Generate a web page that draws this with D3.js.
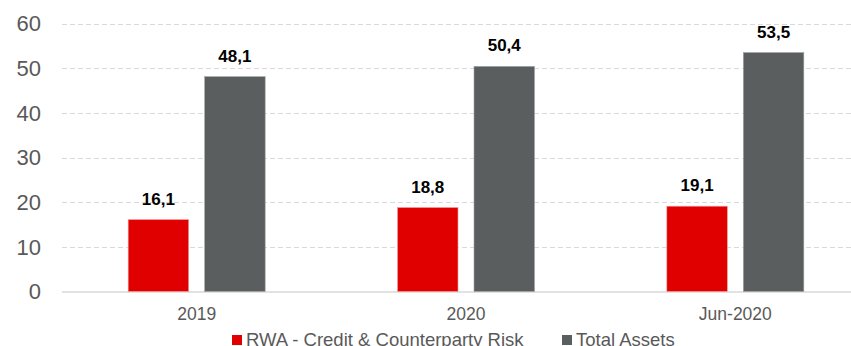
<!DOCTYPE html>
<html>
<head>
<meta charset="utf-8">
<script src="https://cdn.jsdelivr.net/npm/d3@7"></script>
<style>
  html, body { margin: 0; padding: 0; background: #fff; overflow: hidden; }
  svg { display: block; font-family: "Liberation Sans", Arial, sans-serif; }
</style>
</head>
<body>
<svg id="chart" width="851" height="346"></svg>
<script>
const categories = ["2019", "2020", "Jun-2020"];
const seriesNames = ["RWA - Credit & Counterparty Risk", "Total Assets"];
const rwa = [16.1, 18.8, 19.1];
const totalAssets = [48.1, 50.4, 53.5];
const yTicks = [0, 10, 20, 30, 40, 50, 60];
const colors = ["#e00000", "#5b5e5f"];

const svg = d3.select("#chart");
const W = 851, H = 346;
const margin = { left: 62, right: -19, top: 23.5, bottom: 54.5 };

const x = d3.scaleBand().domain(categories)
  .range([margin.left, W - margin.right]).paddingInner(0).paddingOuter(0);
const y = d3.scaleLinear().domain([0, 60]).range([H - margin.bottom, margin.top]);

// dashed gridlines
svg.append("g").selectAll("line").data(yTicks.filter(d => d > 0)).join("line")
  .attr("x1", margin.left).attr("x2", W)
  .attr("y1", d => Math.round(y(d)) + 0.5).attr("y2", d => Math.round(y(d)) + 0.5)
  .attr("stroke", "#d9d9d9").attr("stroke-width", 1.2).attr("stroke-dasharray", "5,3");

// baseline
svg.append("line").attr("x1", margin.left).attr("x2", W)
  .attr("y1", y(0) + 0.5).attr("y2", y(0) + 0.5)
  .attr("stroke", "#d9d9d9").attr("stroke-width", 1.5);

// y axis labels
const yAxis = d3.axisLeft(y).tickValues(yTicks).tickSize(0).tickPadding(0);
const gy = svg.append("g").attr("transform", "translate(41,0)").call(yAxis);
gy.select(".domain").remove();
gy.selectAll("text").attr("fill", "#595959").attr("dy", "0.34em").style("font-size", "22px")
  .style("font-family", "Liberation Sans, Arial, sans-serif");

// x axis labels
const xAxis = d3.axisBottom(x).tickSize(0).tickPadding(0);
const gx = svg.append("g").attr("transform", `translate(0,${y(0)})`).call(xAxis);
gx.select(".domain").remove();
gx.selectAll("text").attr("fill", "#595959").attr("dy", null).attr("y", 28.5).style("font-size", "17.5px")
  .style("font-family", "Liberation Sans, Arial, sans-serif");

// bars with value labels
const barW = 60.5, gap = 16;
const series = [rwa, totalAssets];
series.forEach((vals, si) => {
  const g = svg.append("g");
  const offset = si === 0 ? -(gap / 2 + barW) : gap / 2;
  g.selectAll("rect").data(categories).join("rect")
    .attr("x", (c) => x(c) + x.bandwidth() / 2 + offset)
    .attr("width", barW)
    .attr("y", (c, i) => y(vals[i]))
    .attr("height", (c, i) => y(0) - y(vals[i]))
    .attr("fill", colors[si])
    .attr("stroke", si === 0 ? "#f0a0a0" : "#a0a2a3").attr("stroke-width", 0.6);
  g.selectAll("text").data(categories).join("text")
    .attr("x", (c) => x(c) + x.bandwidth() / 2 + offset + barW / 2)
    .attr("y", (c, i) => y(vals[i]) - 15)
    .attr("text-anchor", "middle")
    .attr("font-weight", "bold").attr("font-size", "17px").attr("fill", "#000")
    .text((c, i) => d3.format(".1f")(vals[i]).replace(".", ","));
});

// legend
const legendItems = [{ x: 232, name: seriesNames[0], c: colors[0] }, { x: 562, name: seriesNames[1], c: colors[1] }];
const lg = svg.append("g");
legendItems.forEach(it => {
  lg.append("rect").attr("x", it.x).attr("y", 335).attr("width", 10).attr("height", 10).attr("fill", it.c);
  lg.append("text").attr("x", it.x + 14).attr("y", 345.5).attr("font-size", "18.5px").attr("fill", "#595959").text(it.name);
});
</script>
</body>
</html>
